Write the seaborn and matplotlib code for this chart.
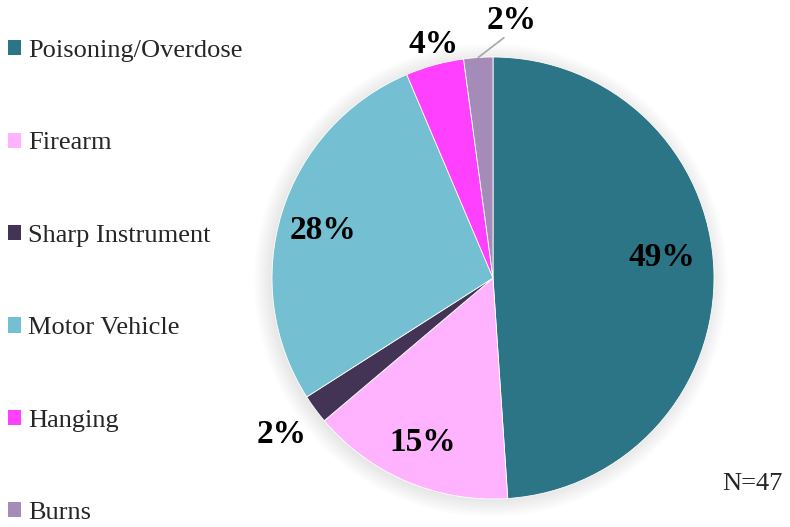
import matplotlib
matplotlib.use("Agg")
import matplotlib.pyplot as plt
import seaborn as sns
import numpy as np
from matplotlib.patches import Patch, Circle

categories = ["Poisoning/Overdose", "Firearm", "Sharp Instrument", "Motor Vehicle", "Hanging", "Burns"]
counts = [23, 7, 1, 13, 2, 1]
pct_labels = ["49%", "15%", "2%", "28%", "4%", "2%"]
colors = ["#2b7587", "#ffb3ff", "#433456", "#74bfd1", "#ff40ff", "#a58bb8"]
label_radius = [0.77, 0.81, 1.19, 0.80, 1.09, 1.17]
label_angle_shift = [5, 0, 0, 1.5, -1, -8]
total_n = 47

sns.set_theme(style="white")
plt.rcParams['font.family'] = ['Liberation Serif', 'DejaVu Serif']

fig = plt.figure(figsize=(7.9, 5.27), dpi=100)
W, H = 790, 527
cx, cy, R = 493, 278, 221
ax = fig.add_axes([(cx - R) / W, (H - cy - R) / H, 2 * R / W, 2 * R / H])
ax.axis("off")

# soft glow/shadow around the pie
for i, r in enumerate(np.linspace(1.07, 1.0, 8)):
    ax.add_patch(Circle((-0.01, -0.01), r, color="black", alpha=0.012, lw=0,
                        zorder=0, clip_on=False))

wedges, _ = ax.pie(counts, colors=colors, startangle=90, counterclock=False,
                   radius=1.0, wedgeprops=dict(linewidth=0.6, edgecolor="white"))
for w in wedges:
    w.set_zorder(2)
ax.set_xlim(-1, 1)
ax.set_ylim(-1, 1)
ax.set_aspect("equal")

for i, w in enumerate(wedges):
    mid = (w.theta1 + w.theta2) / 2 + label_angle_shift[i]
    a = np.deg2rad(mid)
    r = label_radius[i]
    ax.text(r * np.cos(a), r * np.sin(a), pct_labels[i], ha="center", va="center",
            fontsize=24, fontweight="bold", color="black", zorder=5, clip_on=False)

# leader line for the Burns label
wb = wedges[5]
mb = np.deg2rad((wb.theta1 + wb.theta2) / 2)
ab = np.deg2rad((wb.theta1 + wb.theta2) / 2 + label_angle_shift[5])
ax.plot([1.0 * np.cos(mb), 1.09 * np.cos(ab) - 0.03], [1.0 * np.sin(mb), 1.09 * np.sin(ab)],
        color="#a6a6a6", lw=1.2, zorder=4, clip_on=False)

handles = [Patch(facecolor=c, edgecolor="none") for c in colors]
fig.legend(handles, categories, loc="upper left", bbox_to_anchor=(8 / W, 1 - 40 / H),
           frameon=False, fontsize=19, labelspacing=2.67, handlelength=0.5,
           handleheight=0.5, handletextpad=0.27, borderaxespad=0.0, borderpad=0.0)

fig.text(722 / W, 1 - 484 / H, f"N={total_n}", fontsize=19, ha="left", va="center")

fig.savefig("out.png", dpi=100)
